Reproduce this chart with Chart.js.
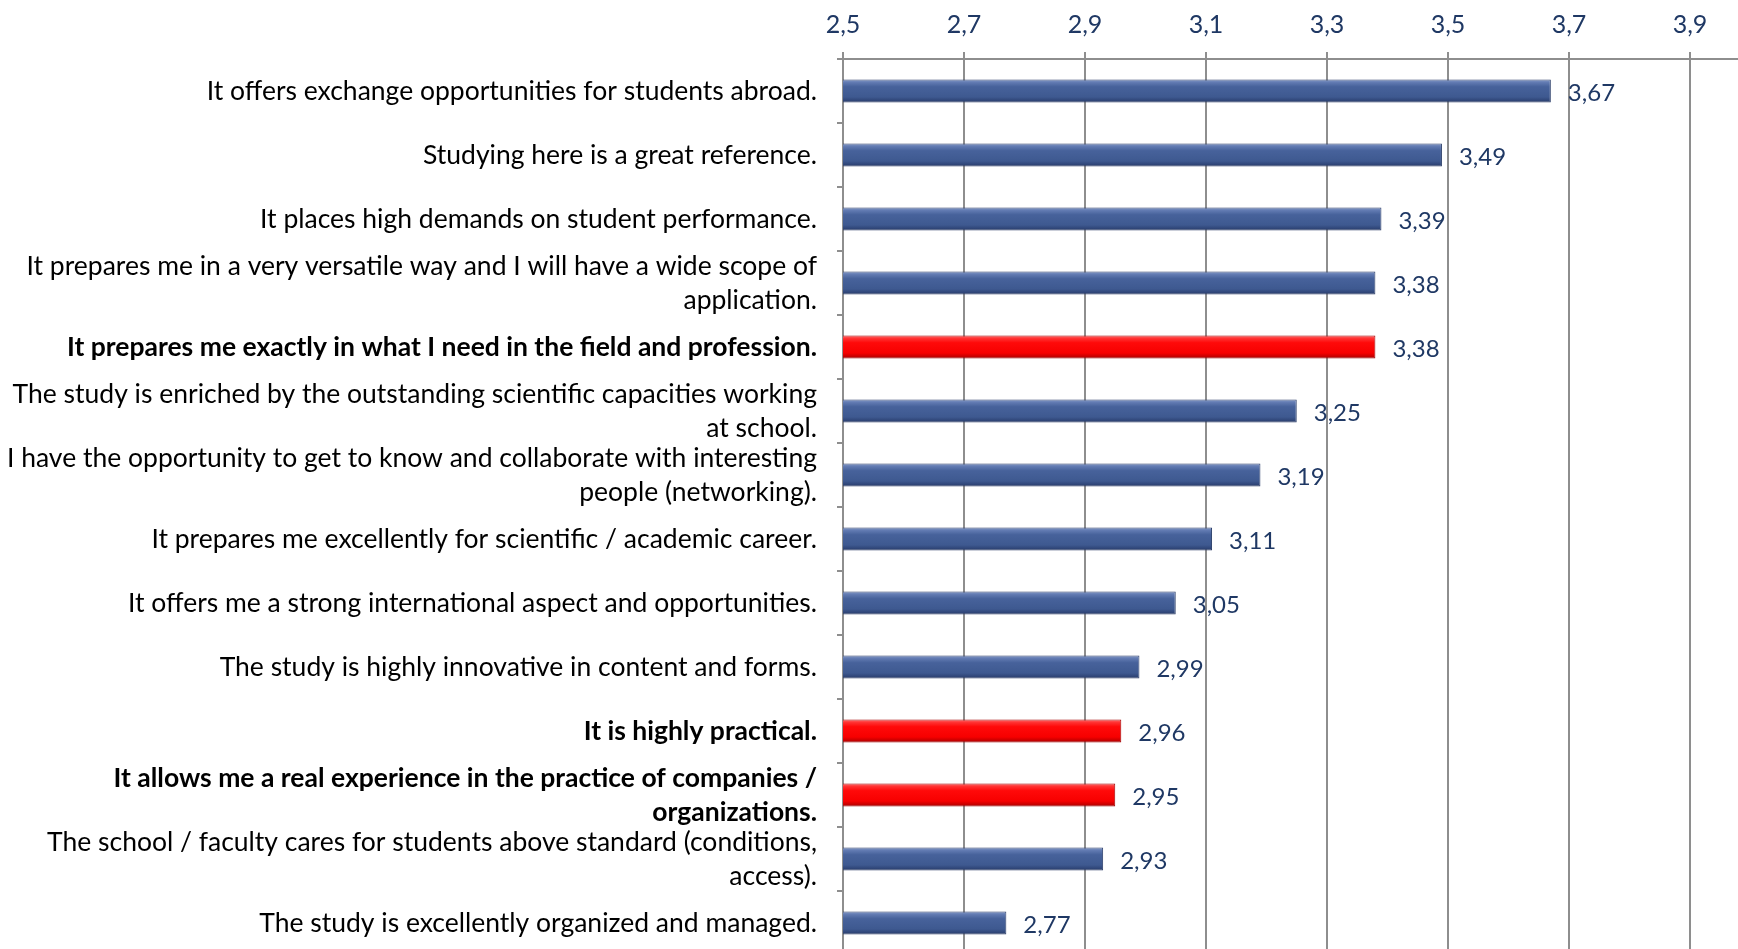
<!DOCTYPE html>
<html>
<head>
<meta charset="utf-8">
<script src="https://cdn.jsdelivr.net/npm/chart.js@4"></script>
<style>
  html, body { margin: 0; padding: 0; background: #fff; overflow: hidden; }
</style>
</head>
<body>
<canvas id="myChart" width="1760" height="960"></canvas>
<script>
const statements = [
  'It offers exchange opportunities for students abroad.',
  'Studying here is a great reference.',
  'It places high demands on student performance.',
  ['It prepares me in a very versatile way and I will have a wide scope of', 'application.'],
  'It prepares me exactly in what I need in the field and profession.',
  ['The study is enriched by the outstanding scientific capacities working', 'at school.'],
  ['I have the opportunity to get to know and collaborate with interesting', 'people (networking).'],
  'It prepares me excellently for scientific / academic career.',
  'It offers me a strong international aspect and opportunities.',
  'The study is highly innovative in content and forms.',
  'It is highly practical.',
  ['It allows me a real experience in the practice of companies /', 'organizations.'],
  ['The school / faculty cares for students above standard (conditions,', 'access).'],
  'The study is excellently organized and managed.',
];
const scores = [3.67, 3.49, 3.39, 3.38, 3.38, 3.25, 3.19, 3.11, 3.05, 2.99, 2.96, 2.95, 2.93, 2.77];
const highlighted = [false, false, false, false, true, false, false, false, false, false, true, true, false, false];
const xTicks = [2.5, 2.7, 2.9, 3.1, 3.3, 3.5, 3.7, 3.9];

const navy = '#1F3864';
const gridGray = '#8E8E8E';
const fmt = (v, d) => v.toFixed(d).replace('.', ',');

// bevel-like fill, like the Excel bars
const barFill = (c) => {
  const chart = c.chart;
  const red = highlighted[c.dataIndex];
  const ys = chart.scales.y;
  if (!ys || !chart.chartArea) return red ? '#FF0000' : '#3F5A8F';
  const mid = ys.getPixelForValue(c.dataIndex);
  const g = chart.ctx.createLinearGradient(0, mid - 12, 0, mid + 12);
  if (red) {
    g.addColorStop(0, '#FF7878');
    g.addColorStop(0.15, '#FF3030');
    g.addColorStop(0.32, '#FF0A0A');
    g.addColorStop(0.75, '#F70000');
    g.addColorStop(0.9, '#C40000');
    g.addColorStop(1, '#7A0000');
  } else {
    g.addColorStop(0, '#8A9FCC');
    g.addColorStop(0.15, '#6079B1');
    g.addColorStop(0.32, '#47629B');
    g.addColorStop(0.75, '#3E5990');
    g.addColorStop(0.9, '#2F4577');
    g.addColorStop(1, '#1C2A4E');
  }
  return g;
};

const valueLabels = {
  id: 'valueLabels',
  afterDatasetsDraw(chart) {
    const ctx = chart.ctx;
    const meta = chart.getDatasetMeta(0);
    ctx.save();
    ctx.font = '24px Lato';
    ctx.fillStyle = navy;
    ctx.textAlign = 'left';
    ctx.textBaseline = 'middle';
    meta.data.forEach((bar, i) => {
      ctx.fillText(fmt(scores[i], 2), bar.x + 17, bar.y + 2);
    });
    ctx.restore();
  },
};

new Chart(document.getElementById('myChart'), {
  type: 'bar',
  data: {
    labels: statements,
    datasets: [
      {
        data: scores,
        backgroundColor: barFill,
        borderColor: (c) => (highlighted[c.dataIndex] ? '#A30000' : '#2C3F6A'),
        borderWidth: 1,
        borderSkipped: false,
        categoryPercentage: 1,
        barPercentage: 0.36,
      },
    ],
  },
  options: {
    indexAxis: 'y',
    responsive: false,
    animation: false,
    layout: { padding: { left: 0, right: 9.5, top: 0, bottom: 5 } },
    plugins: {
      legend: { display: false },
      tooltip: { enabled: false },
    },
    scales: {
      x: {
        position: 'top',
        min: 2.5,
        max: 4.0,
        afterBuildTicks: (s) => {
          s.ticks = xTicks.map((v) => ({ value: v }));
        },
        afterFit: (s) => {
          s.height = 59;
          s.paddingLeft = 0;
          s.paddingRight = 0;
        },
        grid: { color: gridGray, lineWidth: 2, tickLength: 7 },
        border: { color: gridGray, width: 2 },
        ticks: {
          color: navy,
          font: { family: 'Lato', size: 25 },
          padding: 12,
          maxRotation: 0,
          autoSkip: false,
          callback: (v) => fmt(v, 1),
        },
      },
      y: {
        afterFit: (s) => {
          s.width = 843;
          s.paddingTop = 0;
          s.paddingBottom = 0;
        },
        grid: { drawOnChartArea: false, offset: true, tickLength: 6, color: gridGray, lineWidth: 2 },
        border: { color: gridGray, width: 2 },
        ticks: {
          color: '#000',
          padding: 20,
          autoSkip: false,
          font: (c) => ({
            family: 'Lato',
            size: 26.5,
            weight: highlighted[c.index] ? 'bold' : 'normal',
            lineHeight: '34px',
          }),
        },
      },
    },
  },
  plugins: [valueLabels],
});
</script>
</body>
</html>
